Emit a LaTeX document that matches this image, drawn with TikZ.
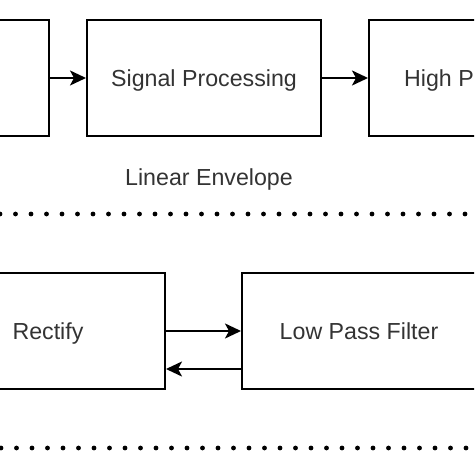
\documentclass[tikz,border=0pt]{standalone}
\usepackage{fontspec}
\setmainfont{Liberation Sans}
\usetikzlibrary{arrows.meta}
\colorlet{labelcolor}{black!80}

\tikzset{
    lbl/.style={text=labelcolor, font=\fontsize{11.6}{14}\selectfont,
        text height=8.3pt, text depth=0pt},
    block/.style={lbl, draw, line width=1pt, minimum width=117pt, minimum height=58pt,
        inner sep=0pt},
    conn/.style={line width=1pt, -{Stealth[length=8pt, width=7.5pt, inset=2pt]}},
    sepline/.style={line width=2.4pt, line cap=round, dash pattern=on 0pt off 7.75pt}
}

\begin{document}
\begin{tikzpicture}[x=0.5pt, y=-0.5pt]
        \clip (0,0) rectangle (474,474);

        % top row
        \node (src) [block] at (-68,78) {};
        \node (sig) [block] at (204,78) {Signal Processing};
        \node (hpf) [block] at (486,78) {High P\phantom{ass Filter}};
        \draw[conn] (src) -- (sig);
        \draw[conn] (sig) -- (hpf);

        \node (env) [lbl] at (209,177) {Linear Envelope};
        \draw[sepline] (0,214) -- (474,214);

        % bottom row
        \node (rect) [block] at (48,331) {Rectify};
        \node (lpf) [block] at (359,331) {Low Pass Filter};
        \draw[conn] (rect) -- (lpf);
        \draw[conn] ([yshift=-19pt]lpf.west) -- ([yshift=-19pt]rect.east);

        \draw[sepline] (1,448) -- (474,448);
    \end{tikzpicture}
\end{document}
